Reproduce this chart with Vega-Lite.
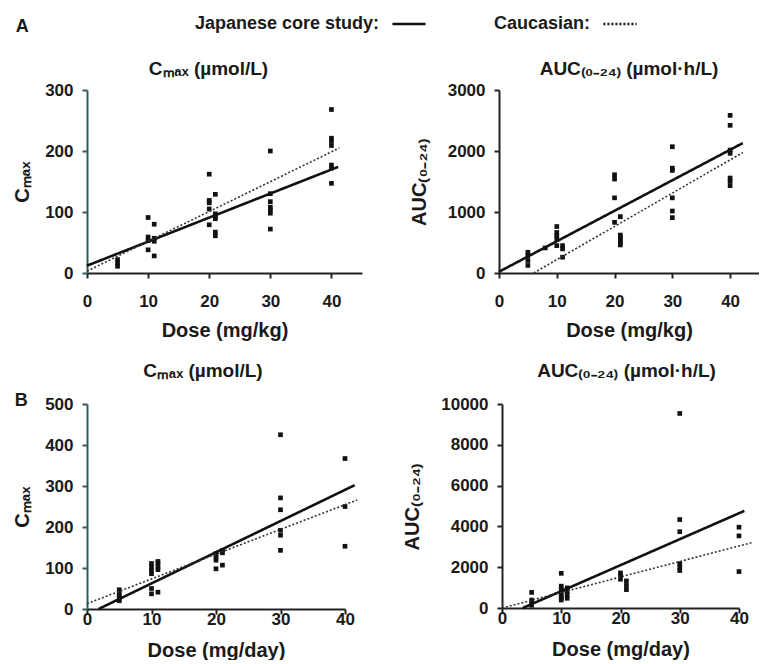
{
  "$schema": "https://vega.github.io/schema/vega-lite/v6.json",
  "background": "white",
  "padding": {"left": 12, "top": 6, "right": 0, "bottom": 0},
  "config": {
    "font": "Liberation Sans",
    "view": {"stroke": null},
    "axis": {
      "grid": false,
      "domainColor": "#222",
      "domainWidth": 2,
      "tickColor": "#222",
      "tickWidth": 2,
      "tickSize": 5,
      "labelFont": "Liberation Sans",
      "labelFontSize": 17,
      "labelFontWeight": "bold",
      "labelColor": "#1a1a1a",
      "labelFlush": false,
      "labelOverlap": false,
      "titleFont": "Liberation Sans",
      "titleFontSize": 20,
      "titleFontWeight": "bold",
      "titleColor": "#1a1a1a"
    },
    "axisX": {"labelPadding": 15, "titlePadding": 11},
    "axisY": {"labelPadding": 9, "titlePadding": 12},
    "title": {"font": "Liberation Sans", "fontSize": 19, "fontWeight": "bold", "color": "#1a1a1a"},
    "legend": {
      "orient": "none",
      "legendX": 304,
      "legendY": -84,
      "direction": "horizontal",
      "title": null,
      "symbolType": "stroke",
      "symbolSize": 1100,
      "symbolStrokeWidth": 2.5,
      "symbolStrokeColor": "#111",
      "labelFont": "Liberation Sans",
      "labelFontSize": 18,
      "labelFontWeight": "bold",
      "labelColor": "#1a1a1a",
      "labelAlign": "right",
      "labelOffset": -48,
      "labelLimit": 300,
      "columnPadding": 62,
      "padding": 0
    }
  },
  "datasets": {
    "pts": [
      {"panel": "A1", "dose": 5, "value": 22}, {"panel": "A1", "dose": 5, "value": 16}, {"panel": "A1", "dose": 5, "value": 11},
      {"panel": "A1", "dose": 10, "value": 91}, {"panel": "A1", "dose": 10, "value": 59}, {"panel": "A1", "dose": 10, "value": 53}, {"panel": "A1", "dose": 10, "value": 38},
      {"panel": "A1", "dose": 11, "value": 80}, {"panel": "A1", "dose": 11, "value": 57}, {"panel": "A1", "dose": 11, "value": 52}, {"panel": "A1", "dose": 11, "value": 28},
      {"panel": "A1", "dose": 20, "value": 162}, {"panel": "A1", "dose": 20, "value": 119}, {"panel": "A1", "dose": 20, "value": 115}, {"panel": "A1", "dose": 20, "value": 105}, {"panel": "A1", "dose": 20, "value": 79},
      {"panel": "A1", "dose": 21, "value": 129}, {"panel": "A1", "dose": 21, "value": 97}, {"panel": "A1", "dose": 21, "value": 92}, {"panel": "A1", "dose": 21, "value": 89}, {"panel": "A1", "dose": 21, "value": 67}, {"panel": "A1", "dose": 21, "value": 61},
      {"panel": "A1", "dose": 30, "value": 200}, {"panel": "A1", "dose": 30, "value": 130}, {"panel": "A1", "dose": 30, "value": 117}, {"panel": "A1", "dose": 30, "value": 108}, {"panel": "A1", "dose": 30, "value": 103}, {"panel": "A1", "dose": 30, "value": 98}, {"panel": "A1", "dose": 30, "value": 72},
      {"panel": "A1", "dose": 40, "value": 268}, {"panel": "A1", "dose": 40, "value": 221}, {"panel": "A1", "dose": 40, "value": 216}, {"panel": "A1", "dose": 40, "value": 209}, {"panel": "A1", "dose": 40, "value": 177}, {"panel": "A1", "dose": 40, "value": 172}, {"panel": "A1", "dose": 40, "value": 147},

      {"panel": "A2", "dose": 5, "value": 340}, {"panel": "A2", "dose": 5, "value": 286}, {"panel": "A2", "dose": 5, "value": 205}, {"panel": "A2", "dose": 5, "value": 124},
      {"panel": "A2", "dose": 8, "value": 411},
      {"panel": "A2", "dose": 10, "value": 762}, {"panel": "A2", "dose": 10, "value": 665}, {"panel": "A2", "dose": 10, "value": 611}, {"panel": "A2", "dose": 10, "value": 557}, {"panel": "A2", "dose": 10, "value": 449},
      {"panel": "A2", "dose": 11, "value": 449}, {"panel": "A2", "dose": 11, "value": 395}, {"panel": "A2", "dose": 11, "value": 259},
      {"panel": "A2", "dose": 20, "value": 1611}, {"panel": "A2", "dose": 20, "value": 1540}, {"panel": "A2", "dose": 20, "value": 1232}, {"panel": "A2", "dose": 20, "value": 830},
      {"panel": "A2", "dose": 21, "value": 924}, {"panel": "A2", "dose": 21, "value": 622}, {"panel": "A2", "dose": 21, "value": 580}, {"panel": "A2", "dose": 21, "value": 540}, {"panel": "A2", "dose": 21, "value": 503}, {"panel": "A2", "dose": 21, "value": 460},
      {"panel": "A2", "dose": 30, "value": 2070}, {"panel": "A2", "dose": 30, "value": 1719}, {"panel": "A2", "dose": 30, "value": 1681}, {"panel": "A2", "dose": 30, "value": 1232}, {"panel": "A2", "dose": 30, "value": 1016}, {"panel": "A2", "dose": 30, "value": 908},
      {"panel": "A2", "dose": 40, "value": 2584}, {"panel": "A2", "dose": 40, "value": 2421}, {"panel": "A2", "dose": 40, "value": 2016}, {"panel": "A2", "dose": 40, "value": 1962}, {"panel": "A2", "dose": 40, "value": 1557}, {"panel": "A2", "dose": 40, "value": 1503}, {"panel": "A2", "dose": 40, "value": 1432},

      {"panel": "B1", "dose": 5, "value": 47}, {"panel": "B1", "dose": 5, "value": 37}, {"panel": "B1", "dose": 5, "value": 31}, {"panel": "B1", "dose": 5, "value": 25}, {"panel": "B1", "dose": 5, "value": 20},
      {"panel": "B1", "dose": 10, "value": 111}, {"panel": "B1", "dose": 10, "value": 102}, {"panel": "B1", "dose": 10, "value": 94}, {"panel": "B1", "dose": 10, "value": 86}, {"panel": "B1", "dose": 10, "value": 50}, {"panel": "B1", "dose": 10, "value": 37},
      {"panel": "B1", "dose": 11, "value": 116}, {"panel": "B1", "dose": 11, "value": 111}, {"panel": "B1", "dose": 11, "value": 102}, {"panel": "B1", "dose": 11, "value": 96}, {"panel": "B1", "dose": 11, "value": 41},
      {"panel": "B1", "dose": 20, "value": 135}, {"panel": "B1", "dose": 20, "value": 127}, {"panel": "B1", "dose": 20, "value": 119}, {"panel": "B1", "dose": 20, "value": 98},
      {"panel": "B1", "dose": 21, "value": 143}, {"panel": "B1", "dose": 21, "value": 137}, {"panel": "B1", "dose": 21, "value": 107},
      {"panel": "B1", "dose": 30, "value": 425}, {"panel": "B1", "dose": 30, "value": 271}, {"panel": "B1", "dose": 30, "value": 242}, {"panel": "B1", "dose": 30, "value": 192}, {"panel": "B1", "dose": 30, "value": 180}, {"panel": "B1", "dose": 30, "value": 143},
      {"panel": "B1", "dose": 40, "value": 367}, {"panel": "B1", "dose": 40, "value": 250}, {"panel": "B1", "dose": 40, "value": 153},

      {"panel": "B2", "dose": 5, "value": 765}, {"panel": "B2", "dose": 5, "value": 391}, {"panel": "B2", "dose": 5, "value": 255}, {"panel": "B2", "dose": 5, "value": 136},
      {"panel": "B2", "dose": 10, "value": 1700}, {"panel": "B2", "dose": 10, "value": 1071}, {"panel": "B2", "dose": 10, "value": 901}, {"panel": "B2", "dose": 10, "value": 731}, {"panel": "B2", "dose": 10, "value": 595}, {"panel": "B2", "dose": 10, "value": 476}, {"panel": "B2", "dose": 10, "value": 391},
      {"panel": "B2", "dose": 11, "value": 986}, {"panel": "B2", "dose": 11, "value": 816}, {"panel": "B2", "dose": 11, "value": 646}, {"panel": "B2", "dose": 11, "value": 476},
      {"panel": "B2", "dose": 20, "value": 1717}, {"panel": "B2", "dose": 20, "value": 1581}, {"panel": "B2", "dose": 20, "value": 1411},
      {"panel": "B2", "dose": 21, "value": 1326}, {"panel": "B2", "dose": 21, "value": 1105}, {"panel": "B2", "dose": 21, "value": 901},
      {"panel": "B2", "dose": 30, "value": 9537}, {"panel": "B2", "dose": 30, "value": 4335}, {"panel": "B2", "dose": 30, "value": 3740}, {"panel": "B2", "dose": 30, "value": 2176}, {"panel": "B2", "dose": 30, "value": 2006}, {"panel": "B2", "dose": 30, "value": 1836},
      {"panel": "B2", "dose": 40, "value": 3961}, {"panel": "B2", "dose": 40, "value": 3536}, {"panel": "B2", "dose": 40, "value": 1785}
    ],
    "lines": [
      {"panel": "A1", "study": "Japanese core study:", "dose": 0, "value": 12}, {"panel": "A1", "study": "Japanese core study:", "dose": 41.1, "value": 174},
      {"panel": "A1", "study": "Caucasian:", "dose": 0, "value": 3}, {"panel": "A1", "study": "Caucasian:", "dose": 41.3, "value": 205},
      {"panel": "A2", "study": "Japanese core study:", "dose": 0, "value": 20}, {"panel": "A2", "study": "Japanese core study:", "dose": 42.2, "value": 2130},
      {"panel": "A2", "study": "Caucasian:", "dose": 6, "value": 0}, {"panel": "A2", "study": "Caucasian:", "dose": 42.2, "value": 1975},
      {"panel": "B1", "study": "Japanese core study:", "dose": 1.8, "value": 0}, {"panel": "B1", "study": "Japanese core study:", "dose": 41.5, "value": 302},
      {"panel": "B1", "study": "Caucasian:", "dose": 0, "value": 13}, {"panel": "B1", "study": "Caucasian:", "dose": 41.9, "value": 266},
      {"panel": "B2", "study": "Japanese core study:", "dose": 3.5, "value": 0}, {"panel": "B2", "study": "Japanese core study:", "dose": 40.9, "value": 4760},
      {"panel": "B2", "study": "Caucasian:", "dose": 0, "value": 0}, {"panel": "B2", "study": "Caucasian:", "dose": 42.1, "value": 3200}
    ]
  },
  "spacing": 22,
  "vconcat": [
    {
      "title": {"text": "A", "anchor": "start", "fontSize": 18, "dx": 3, "offset": 24},
      "spacing": 47,
      "hconcat": [
        {
          "width": 275, "height": 183,
          "title": {"text": "Cₘₐₓ (µmol/L)", "offset": 2, "dx": -16},
          "layer": [
            {
              "data": {"name": "pts"}, "transform": [{"filter": "datum.panel === 'A1'"}],
              "mark": {"type": "point", "shape": "square", "filled": true, "size": 22, "color": "#111", "opacity": 1},
              "encoding": {
                "x": {"field": "dose", "type": "quantitative", "scale": {"domain": [0, 41]}, "axis": {"values": [0, 10, 20, 30, 40], "title": "Dose (mg/kg)", "labelOverlap": false}},
                "y": {"field": "value", "type": "quantitative", "scale": {"domain": [0, 300]}, "axis": {"values": [0, 50, 100, 150, 200, 250, 300], "title": "Cₘₐₓ", "labelOverlap": false, "domainColor": "#2f5c5c", "tickColor": "#2f5c5c"}}
              }
            },
            {
              "data": {"name": "lines"}, "transform": [{"filter": "datum.panel === 'A1' && datum.study === 'Japanese core study:'"}],
              "mark": {"type": "line", "color": "#111", "strokeWidth": 2.6},
              "encoding": {
                "x": {"field": "dose", "type": "quantitative"},
                "y": {"field": "value", "type": "quantitative"},
                "strokeDash": {"field": "study", "type": "nominal", "scale": {"domain": ["Japanese core study:", "Caucasian:"], "range": [[1, 0], [2, 2]]}}
              }
            },
            {
              "data": {"name": "lines"}, "transform": [{"filter": "datum.panel === 'A1' && datum.study === 'Caucasian:'"}],
              "mark": {"type": "line", "color": "#333", "strokeWidth": 1.6},
              "encoding": {
                "x": {"field": "dose", "type": "quantitative"},
                "y": {"field": "value", "type": "quantitative"},
                "strokeDash": {"field": "study", "type": "nominal"}
              }
            }
          ]
        },
        {
          "width": 260, "height": 183,
          "title": {"text": "AUC₍₀₋₂₄₎ (µmol·h/L)", "offset": 2},
          "layer": [
            {
              "data": {"name": "pts"}, "transform": [{"filter": "datum.panel === 'A2'"}],
              "mark": {"type": "point", "shape": "square", "filled": true, "size": 22, "color": "#111", "opacity": 1},
              "encoding": {
                "x": {"field": "dose", "type": "quantitative", "scale": {"domain": [0, 41]}, "axis": {"values": [0, 10, 20, 30, 40], "title": "Dose (mg/kg)", "labelOverlap": false}},
                "y": {"field": "value", "type": "quantitative", "scale": {"domain": [0, 3000]}, "axis": {"values": [0, 500, 1000, 1500, 2000, 2500, 3000], "format": "d", "title": "AUC₍₀₋₂₄₎", "titlePadding": 18, "labelOverlap": false}}
              }
            },
            {
              "data": {"name": "lines"}, "transform": [{"filter": "datum.panel === 'A2' && datum.study === 'Japanese core study:'"}],
              "mark": {"type": "line", "color": "#111", "strokeWidth": 2.6},
              "encoding": {
                "x": {"field": "dose", "type": "quantitative"},
                "y": {"field": "value", "type": "quantitative"},
                "strokeDash": {"field": "study", "type": "nominal"}
              }
            },
            {
              "data": {"name": "lines"}, "transform": [{"filter": "datum.panel === 'A2' && datum.study === 'Caucasian:'"}],
              "mark": {"type": "line", "color": "#333", "strokeWidth": 1.6},
              "encoding": {
                "x": {"field": "dose", "type": "quantitative"},
                "y": {"field": "value", "type": "quantitative"},
                "strokeDash": {"field": "study", "type": "nominal"}
              }
            }
          ]
        }
      ]
    },
    {
      "title": {"text": "B", "anchor": "start", "fontSize": 18, "dx": 2, "offset": -48},
      "spacing": 41,
      "hconcat": [
        {
          "width": 258, "height": 205,
          "title": {"text": "Cₘₐₓ (µmol/L)", "offset": 14, "dx": -13},
          "layer": [
            {
              "data": {"name": "pts"}, "transform": [{"filter": "datum.panel === 'B1'"}],
              "mark": {"type": "point", "shape": "square", "filled": true, "size": 22, "color": "#111", "opacity": 1},
              "encoding": {
                "x": {"field": "dose", "type": "quantitative", "scale": {"domain": [0, 40]}, "axis": {"values": [0, 10, 20, 30, 40], "title": "Dose (mg/day)", "labelPadding": -3, "titlePadding": 13, "labelOverlap": false}},
                "y": {"field": "value", "type": "quantitative", "scale": {"domain": [0, 500]}, "axis": {"values": [0, 100, 200, 300, 400, 500], "title": "Cₘₐₓ", "labelOverlap": false, "domainColor": "#2f5c5c", "tickColor": "#2f5c5c"}}
              }
            },
            {
              "data": {"name": "lines"}, "transform": [{"filter": "datum.panel === 'B1' && datum.study === 'Japanese core study:'"}],
              "mark": {"type": "line", "color": "#111", "strokeWidth": 2.6},
              "encoding": {
                "x": {"field": "dose", "type": "quantitative"},
                "y": {"field": "value", "type": "quantitative"},
                "strokeDash": {"field": "study", "type": "nominal"}
              }
            },
            {
              "data": {"name": "lines"}, "transform": [{"filter": "datum.panel === 'B1' && datum.study === 'Caucasian:'"}],
              "mark": {"type": "line", "color": "#333", "strokeWidth": 1.6},
              "encoding": {
                "x": {"field": "dose", "type": "quantitative"},
                "y": {"field": "value", "type": "quantitative"},
                "strokeDash": {"field": "study", "type": "nominal"}
              }
            }
          ]
        },
        {
          "width": 237, "height": 204,
          "title": {"text": "AUC₍₀₋₂₄₎ (µmol·h/L)", "offset": 14, "dx": 6},
          "layer": [
            {
              "data": {"name": "pts"}, "transform": [{"filter": "datum.panel === 'B2'"}],
              "mark": {"type": "point", "shape": "square", "filled": true, "size": 22, "color": "#111", "opacity": 1},
              "encoding": {
                "x": {"field": "dose", "type": "quantitative", "scale": {"domain": [0, 40]}, "axis": {"values": [0, 10, 20, 30, 40], "title": "Dose (mg/day)", "labelPadding": -3, "titlePadding": 13, "labelOverlap": false}},
                "y": {"field": "value", "type": "quantitative", "scale": {"domain": [0, 10000]}, "axis": {"values": [0, 2000, 4000, 6000, 8000, 10000], "format": "d", "title": "AUC₍₀₋₂₄₎", "titlePadding": 18, "labelOverlap": false}}
              }
            },
            {
              "data": {"name": "lines"}, "transform": [{"filter": "datum.panel === 'B2' && datum.study === 'Japanese core study:'"}],
              "mark": {"type": "line", "color": "#111", "strokeWidth": 2.6},
              "encoding": {
                "x": {"field": "dose", "type": "quantitative"},
                "y": {"field": "value", "type": "quantitative"},
                "strokeDash": {"field": "study", "type": "nominal"}
              }
            },
            {
              "data": {"name": "lines"}, "transform": [{"filter": "datum.panel === 'B2' && datum.study === 'Caucasian:'"}],
              "mark": {"type": "line", "color": "#333", "strokeWidth": 1.6},
              "encoding": {
                "x": {"field": "dose", "type": "quantitative"},
                "y": {"field": "value", "type": "quantitative"},
                "strokeDash": {"field": "study", "type": "nominal"}
              }
            }
          ]
        }
      ]
    }
  ]
}
